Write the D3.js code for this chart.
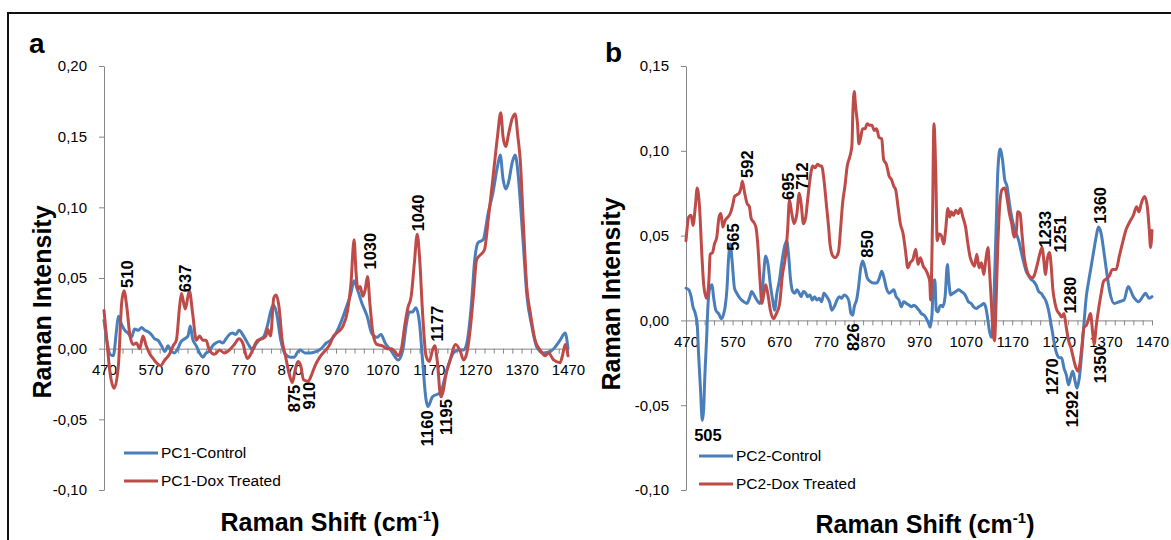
<!DOCTYPE html>
<html>
<head>
<meta charset="utf-8">
<script src="https://cdn.jsdelivr.net/npm/d3@7"></script>
<style>
  html, body { margin: 0; padding: 0; background: #fff; }
  svg { display: block; font-family: "Liberation Sans", Arial, sans-serif; }
</style>
</head>
<body>
<div id="chart"></div>
<script>
// ---- data ----
var xTickLabels = [470, 570, 670, 770, 870, 970, 1070, 1170, 1270, 1370, 1470];
var xMinorTicks = d3.range(470, 1471, 20);
var pc1YTicks = [0.20, 0.15, 0.10, 0.05, 0.00, -0.05, -0.10];
var pc2YTicks = [0.15, 0.10, 0.05, 0.00, -0.05, -0.10];
var seriesNamesA = ['PC1-Control', 'PC1-Dox Treated'];
var seriesNamesB = ['PC2-Control', 'PC2-Dox Treated'];

var pc1ControlShift = [470,476,483,490,497,501,508,515,522,529,536,544,551,558,565,572,579,586,594,601,608,615,622,629,636,644,651,656,661,669,676,683,690,697,704,711,719,726,733,740,747,754,761,769,776,783,790,797,804,815,822,829,835,842,851,861,872,880,888,893,903,914,928,938,949,959,970,981,991,1002,1009,1016,1026,1037,1047,1058,1067,1076,1090,1104,1114,1121,1128,1135,1142,1150,1157,1164,1168,1178,1195,1209,1223,1234,1245,1252,1262,1269,1276,1287,1298,1308,1318,1324,1330,1336,1342,1350,1356,1362,1367,1374,1381,1392,1403,1417,1432,1442,1453,1464,1470];
var pc1ControlValue = [0.020,0.006,-0.004,-0.005,0.013,0.023,0.017,0.013,0.011,0.008,0.014,0.013,0.015,0.013,0.012,0.010,0.007,0.006,0.002,-0.002,0.002,-0.002,-0.003,0.000,0.005,0.007,0.009,0.016,0.007,0.002,-0.003,-0.006,-0.003,-0.002,0.002,0.004,0.005,0.004,0.007,0.010,0.011,0.010,0.013,0.010,0.006,0.002,-0.001,0.003,0.006,0.009,0.016,0.026,0.031,0.025,0.006,-0.004,-0.006,-0.006,-0.002,-0.001,-0.003,-0.003,-0.002,0.000,0.004,0.006,0.011,0.019,0.028,0.039,0.048,0.042,0.032,0.023,0.011,0.008,0.010,0.004,-0.002,-0.008,-0.001,0.016,0.026,0.026,0.029,0.018,-0.010,-0.036,-0.041,-0.034,-0.031,-0.015,-0.003,-0.001,-0.001,0.004,0.032,0.063,0.075,0.077,0.096,0.110,0.129,0.137,0.120,0.113,0.118,0.132,0.137,0.125,0.105,0.072,0.039,0.016,0.001,-0.003,-0.002,0.001,0.006,0.011,0.000];

var pc1DoxShift = [470,476,483,492,501,508,513,519,526,533,540,547,554,561,569,576,583,592,601,611,619,626,633,637,645,654,661,669,676,683,690,697,708,719,729,740,751,761,769,779,786,794,801,811,819,822,829,836,841,847,854,861,870,876,882,888,894,900,910,918,925,935,945,955,965,975,985,995,1002,1009,1013,1017,1022,1028,1033,1038,1043,1050,1058,1070,1080,1090,1097,1104,1111,1118,1125,1132,1139,1145,1150,1157,1164,1171,1178,1183,1188,1196,1201,1206,1216,1228,1238,1245,1252,1259,1266,1273,1280,1290,1298,1308,1318,1325,1330,1336,1342,1350,1356,1362,1367,1374,1381,1389,1399,1410,1421,1428,1439,1453,1458,1464,1470];
var pc1DoxValue = [0.027,0.006,-0.017,-0.028,-0.012,0.032,0.041,0.030,0.009,0.003,0.004,0.000,0.009,0.002,-0.004,-0.007,-0.010,-0.012,-0.008,-0.004,0.002,0.006,0.030,0.039,0.028,0.041,0.025,0.006,0.009,0.006,0.006,-0.001,-0.004,-0.001,-0.003,-0.001,0.003,0.007,0.004,-0.007,-0.004,0.002,0.006,0.007,0.009,0.014,0.009,0.036,0.038,0.030,0.006,-0.005,-0.019,-0.024,-0.015,-0.009,-0.012,-0.022,-0.023,-0.018,-0.012,-0.006,-0.002,0.002,0.009,0.012,0.016,0.027,0.045,0.077,0.055,0.042,0.044,0.037,0.042,0.051,0.032,0.010,0.003,0.002,0.000,0.000,-0.002,-0.005,0.000,0.016,0.029,0.037,0.061,0.081,0.065,0.023,-0.005,-0.009,-0.001,0.002,-0.008,-0.034,-0.030,-0.020,-0.008,0.003,-0.002,-0.008,-0.003,0.013,0.037,0.063,0.066,0.070,0.091,0.120,0.150,0.167,0.150,0.143,0.152,0.163,0.166,0.150,0.134,0.087,0.044,0.025,0.006,-0.001,-0.005,-0.003,-0.008,-0.010,-0.005,0.003,-0.005];

var pc2ControlShift = [470,476,481,485,490,494,497,501,505,508,510,514,517,521,526,529,534,540,546,551,554,558,561,565,569,574,579,586,594,601,606,611,616,622,628,633,636,641,646,651,656,660,665,670,676,681,686,690,694,699,703,708,713,717,722,727,731,736,741,746,751,756,761,766,772,778,783,788,794,799,804,809,815,820,824,828,831,836,840,845,849,854,859,865,872,879,885,890,895,900,906,911,916,921,927,932,937,943,949,954,959,964,970,975,981,986,991,994,998,1001,1004,1007,1011,1014,1018,1021,1026,1031,1034,1038,1043,1049,1055,1061,1066,1071,1076,1082,1087,1093,1098,1104,1109,1113,1118,1121,1125,1129,1132,1136,1139,1144,1149,1154,1159,1164,1169,1174,1179,1184,1189,1194,1200,1206,1211,1216,1221,1227,1232,1237,1243,1248,1252,1257,1262,1266,1271,1276,1281,1286,1291,1295,1300,1305,1309,1314,1319,1324,1329,1334,1339,1345,1350,1355,1361,1366,1373,1380,1389,1400,1410,1419,1430,1441,1450,1456,1464,1470];
var pc2ControlValue = [0.019,0.018,0.014,0.008,0.004,-0.002,-0.020,-0.040,-0.059,-0.052,-0.036,-0.012,0.008,0.019,0.021,0.014,0.006,0.004,0.001,0.004,0.008,0.019,0.035,0.045,0.035,0.019,0.016,0.013,0.011,0.010,0.013,0.017,0.015,0.012,0.010,0.014,0.025,0.038,0.033,0.021,0.012,0.006,0.016,0.023,0.035,0.043,0.047,0.039,0.025,0.017,0.016,0.018,0.016,0.014,0.017,0.016,0.014,0.015,0.012,0.014,0.012,0.013,0.011,0.016,0.014,0.011,0.006,0.008,0.012,0.014,0.013,0.015,0.014,0.011,0.004,0.003,0.008,0.012,0.019,0.031,0.035,0.031,0.025,0.023,0.022,0.022,0.025,0.029,0.025,0.019,0.016,0.017,0.018,0.014,0.012,0.008,0.011,0.010,0.009,0.008,0.009,0.008,0.006,0.004,0.003,0.001,-0.002,-0.004,0.004,0.023,0.024,0.006,0.005,0.008,0.009,0.008,0.014,0.033,0.023,0.015,0.016,0.017,0.018,0.017,0.016,0.014,0.011,0.010,0.008,0.007,0.008,0.009,0.010,0.008,0.000,-0.006,-0.010,-0.002,0.023,0.059,0.087,0.101,0.095,0.083,0.079,0.069,0.061,0.055,0.051,0.047,0.041,0.035,0.029,0.026,0.024,0.023,0.021,0.017,0.016,0.014,0.011,0.006,0.000,-0.008,-0.016,-0.020,-0.022,-0.022,-0.028,-0.032,-0.038,-0.034,-0.030,-0.036,-0.040,-0.034,-0.020,-0.002,0.014,0.023,0.031,0.041,0.049,0.055,0.051,0.042,0.028,0.016,0.010,0.011,0.012,0.020,0.014,0.011,0.014,0.016,0.013,0.014];

var pc2DoxShift = [470,476,481,485,490,494,499,504,508,514,519,522,527,531,536,541,545,549,554,560,565,571,574,579,584,588,591,596,601,606,610,615,620,624,629,633,636,641,646,651,658,664,671,677,683,688,692,697,702,708,713,717,722,727,731,736,742,747,752,758,761,766,771,776,779,785,790,797,802,806,811,816,822,826,828,831,834,838,841,845,849,854,859,864,869,874,879,884,890,894,900,906,911,916,920,925,930,936,941,946,951,957,963,968,973,979,984,989,993,995,999,1002,1006,1009,1013,1018,1023,1027,1032,1036,1039,1044,1049,1054,1059,1064,1070,1075,1080,1084,1089,1094,1099,1104,1109,1113,1118,1121,1125,1129,1132,1136,1139,1143,1148,1154,1159,1164,1169,1174,1179,1182,1187,1191,1196,1201,1207,1213,1218,1223,1229,1234,1238,1241,1246,1250,1254,1257,1262,1266,1271,1276,1281,1286,1291,1296,1301,1307,1312,1316,1320,1324,1329,1334,1338,1343,1346,1350,1355,1361,1366,1370,1378,1385,1393,1400,1407,1415,1422,1430,1437,1442,1447,1454,1460,1464,1467,1470];
var pc2DoxValue = [0.047,0.061,0.062,0.056,0.067,0.078,0.067,0.039,0.021,0.013,0.023,0.039,0.040,0.045,0.049,0.061,0.063,0.055,0.059,0.061,0.063,0.069,0.073,0.074,0.075,0.078,0.082,0.075,0.069,0.067,0.060,0.058,0.055,0.045,0.023,0.010,0.014,0.021,0.015,0.006,0.001,0.004,0.010,0.027,0.037,0.053,0.071,0.063,0.057,0.063,0.075,0.069,0.057,0.061,0.071,0.083,0.091,0.090,0.092,0.091,0.091,0.083,0.069,0.055,0.045,0.038,0.037,0.040,0.055,0.069,0.079,0.091,0.097,0.103,0.122,0.135,0.126,0.116,0.104,0.108,0.113,0.113,0.116,0.115,0.115,0.112,0.113,0.108,0.107,0.095,0.092,0.085,0.083,0.079,0.077,0.067,0.057,0.051,0.041,0.031,0.034,0.036,0.042,0.033,0.037,0.032,0.030,0.027,0.023,0.012,0.059,0.116,0.087,0.047,0.051,0.050,0.045,0.053,0.066,0.061,0.064,0.062,0.065,0.063,0.066,0.061,0.055,0.045,0.037,0.034,0.032,0.039,0.031,0.034,0.027,0.035,0.043,0.031,0.012,-0.008,-0.012,0.016,0.043,0.067,0.077,0.078,0.072,0.063,0.057,0.049,0.053,0.064,0.063,0.051,0.037,0.030,0.026,0.025,0.027,0.032,0.039,0.043,0.035,0.027,0.037,0.040,0.031,0.019,0.010,0.006,0.004,0.002,0.004,-0.004,-0.012,-0.016,-0.022,-0.028,-0.030,-0.024,-0.014,-0.004,-0.003,0.001,0.004,-0.008,-0.014,-0.004,0.006,0.016,0.023,0.024,0.026,0.030,0.030,0.038,0.046,0.054,0.058,0.062,0.067,0.064,0.069,0.073,0.067,0.054,0.043,0.053];

// peak annotations: text, wavenumber and intensity where the label starts
var pc1PeakText  = ['510', '637', '1030', '1040', '1177', '875', '910', '1160', '1195'];
var pc1PeakShift = [520, 645, 1043, 1147, 1188, 880, 912, 1166, 1207];
var pc1PeakLevel = [0.043, 0.040, 0.056, 0.083, 0.005, -0.045, -0.043, -0.069, -0.061];

var pc2PeakText  = ['565', '592', '695', '712', '850', '826', '1233', '1251', '1280', '1360', '1270', '1292', '1350'];
var pc2PeakShift = [571, 601, 689, 719, 859, 829, 1241, 1273, 1295, 1359, 1256, 1299, 1359];
var pc2PeakLevel = [0.041, 0.084, 0.071, 0.077, 0.037, -0.018, 0.043, 0.040, 0.004, 0.057, -0.044, -0.063, -0.037];
var pc2FlatText = ['505'];
var pc2FlatShift = [517];
var pc2FlatLevel = [-0.071];

var BLUE = '#4a7ebb', RED = '#be4b48', AXIS = '#868686';

function fmtComma(v) { return d3.format('.2f')(v).replace('.', ',').replace('\u2212', '-'); }
function zip(a, b) { return a.map(function (d, i) { return [d, b[i]]; }); }

var svg = d3.select('#chart').append('svg').attr('width', 1171).attr('height', 540);
svg.append('rect').attr('width', 1171).attr('height', 540).attr('fill', '#fff');
svg.append('path').attr('d', 'M8,540V13H1171').attr('fill', 'none').attr('stroke', '#111').attr('stroke-width', 2);

function drawPanel(p) {
  var x = d3.scaleLinear().domain([470, 1470]).range(p.xRange);
  var y = d3.scaleLinear().domain(p.yDomain).range([490, 66]);
  var g = svg.append('g');

  var ya = g.append('g').attr('transform', 'translate(' + p.xRange[0] + ',0)')
    .call(d3.axisLeft(y).tickValues(p.yTicks).tickSize(5).tickSizeOuter(0).tickPadding(12).tickFormat(fmtComma));
  var xa = g.append('g').attr('transform', 'translate(0,' + y(0) + ')')
    .call(d3.axisBottom(x).tickValues(xMinorTicks).tickSize(5).tickSizeOuter(0).tickPadding(11)
      .tickFormat(function (d) { return xTickLabels.indexOf(d) >= 0 ? d : ''; }));
  [ya, xa].forEach(function (a) {
    a.selectAll('.domain, .tick line').attr('stroke', AXIS).attr('stroke-width', 1);
    a.selectAll('text').attr('fill', '#000').attr('font-size', '15px').attr('font-family', '"Liberation Sans", Arial, sans-serif');
  });

  var line = d3.line().x(function (d) { return x(d[0]); }).y(function (d) { return y(d[1]); }).curve(p.curve);
  p.series.forEach(function (s) {
    g.append('path').datum(s.data).attr('d', line).attr('fill', 'none')
      .attr('stroke', s.color).attr('stroke-width', 3).attr('stroke-linejoin', 'round').attr('stroke-linecap', 'round');
  });

  // rotated peak labels
  p.peakText.forEach(function (t, i) {
    g.append('text').attr('transform', 'translate(' + (x(p.peakShift[i]) + 6) + ',' + y(p.peakLevel[i]) + ') rotate(-90)')
      .attr('font-size', '16.5px').attr('font-weight', 'bold').attr('fill', '#000').text(t);
  });
  (p.flatText || []).forEach(function (t, i) {
    g.append('text').attr('x', x(p.flatShift[i])).attr('y', y(p.flatLevel[i])).attr('text-anchor', 'middle')
      .attr('font-size', '16.5px').attr('font-weight', 'bold').attr('fill', '#000').text(t);
  });

  // legend
  p.series.forEach(function (s, i) {
    var ly = p.legend[1] + i * 28;
    g.append('line').attr('x1', p.legend[0]).attr('x2', p.legend[0] + 34).attr('y1', ly).attr('y2', ly)
      .attr('stroke', s.color).attr('stroke-width', 3);
    g.append('text').attr('x', p.legend[0] + 37).attr('y', ly + 5).attr('font-size', '15.5px').attr('fill', '#000').text(s.name);
  });

  // titles
  g.append('text').attr('x', p.letter[0]).attr('y', p.letter[1]).attr('font-size', '28px').attr('font-weight', 'bold').text(p.letterText);
  g.append('text').attr('transform', 'translate(' + p.yTitle[0] + ',' + p.yTitle[1] + ') rotate(-90)')
    .attr('text-anchor', 'middle').attr('font-size', '25px').attr('font-weight', 'bold').text('Raman Intensity');
  var xt = g.append('text').attr('x', p.xTitle[0]).attr('y', p.xTitle[1]).attr('text-anchor', 'middle')
    .attr('font-size', '25px').attr('font-weight', 'bold');
  xt.append('tspan').text('Raman Shift (cm');
  xt.append('tspan').attr('font-size', '15px').attr('dy', -10).text('-1');
  xt.append('tspan').attr('dy', 10).text(')');
}

drawPanel({
  xRange: [104, 568], yDomain: [-0.10, 0.20], yTicks: pc1YTicks, curve: d3.curveMonotoneX,
  series: [
    { name: seriesNamesA[0], color: BLUE, data: zip(pc1ControlShift, pc1ControlValue) },
    { name: seriesNamesA[1], color: RED, data: zip(pc1DoxShift, pc1DoxValue) }
  ],
  peakText: pc1PeakText, peakShift: pc1PeakShift, peakLevel: pc1PeakLevel,
  legend: [124, 453], letter: [29, 53], letterText: 'a', yTitle: [51, 302], xTitle: [330, 531]
});

drawPanel({
  xRange: [686, 1152], yDomain: [-0.10, 0.15], yTicks: pc2YTicks, curve: d3.curveMonotoneX,
  series: [
    { name: seriesNamesB[0], color: BLUE, data: zip(pc2ControlShift, pc2ControlValue) },
    { name: seriesNamesB[1], color: RED, data: zip(pc2DoxShift, pc2DoxValue) }
  ],
  peakText: pc2PeakText, peakShift: pc2PeakShift, peakLevel: pc2PeakLevel,
  flatText: pc2FlatText, flatShift: pc2FlatShift, flatLevel: pc2FlatLevel,
  legend: [699, 456], letter: [605, 62], letterText: 'b', yTitle: [620, 294], xTitle: [925, 533]
});
</script>
</body>
</html>
